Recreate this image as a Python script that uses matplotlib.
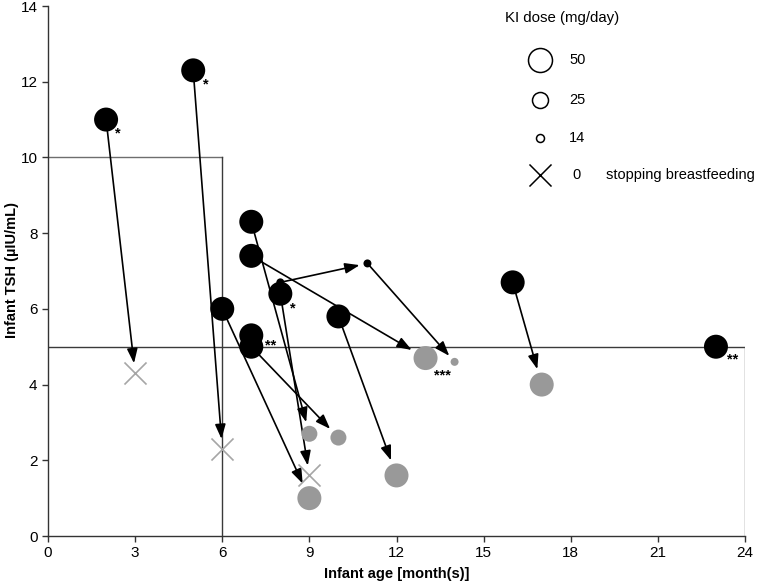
import matplotlib
matplotlib.use("Agg")
import matplotlib.pyplot as plt

plt.rcParams['font.family'] = ['Liberation Sans', 'DejaVu Sans']

# ---------------- data ----------------
# initial measurements (black)
black_age = [2, 5, 7, 7, 8, 6, 7, 7, 10, 16, 23, 8, 11]
black_tsh = [11.0, 12.3, 8.3, 7.4, 6.4, 6.0, 5.3, 5.0, 5.8, 6.7, 5.0, 6.7, 7.2]
black_dose = [50, 50, 50, 50, 50, 50, 50, 50, 50, 50, 50, 14, 14]

# follow-up measurements (grey)
gray_age = [9, 13, 9, 10, 12, 17, 14]
gray_tsh = [2.7, 4.7, 1.0, 2.6, 1.6, 4.0, 4.6]
gray_dose = [25, 50, 50, 25, 50, 50, 14]

# stopping breastfeeding (dose 0)
stop_age = [3, 6, 9]
stop_tsh = [4.3, 2.3, 1.6]

# arrows
arrow_from_age = [2, 5, 7, 7, 8, 6, 7, 10, 16, 8, 11]
arrow_from_tsh = [11.0, 12.3, 8.3, 7.4, 6.4, 6.0, 5.0, 5.8, 6.7, 6.7, 7.2]
arrow_to_age = [3, 6, 9, 13, 9, 9, 10, 12, 17, 11, 14]
arrow_to_tsh = [4.3, 2.3, 2.7, 4.7, 1.6, 1.0, 2.6, 1.6, 4.0, 7.2, 4.6]
arrow_to_dose = [0, 0, 25, 50, 0, 50, 25, 50, 50, 14, 14]

# significance marks
star_age = [2, 5, 8, 7, 13, 23]
star_tsh = [11.0, 12.3, 6.4, 5.3, 4.7, 5.0]
star_text = ['*', '*', '*', '**', '***', '**']

legend_doses = [50, 25, 14]
x_ticks = [0, 3, 6, 9, 12, 15, 18, 21, 24]
y_ticks = [0, 2, 4, 6, 8, 10, 12, 14]

# ---------------- style ----------------
DPI = 100
radius_px = {50: 12, 25: 8, 14: 4, 0: 8}


def s_of(d):
    diam_pt = 2 * radius_px[d] * 72 / DPI
    return diam_pt ** 2


fig = plt.figure(figsize=(7.57, 5.85), dpi=DPI)
ax = fig.add_axes([48 / 757, 49 / 585, (745 - 48) / 757, (536 - 6) / 585])
ax.set_xlim(0, 24)
ax.set_ylim(0, 14)

ref_col = '#6e6e6e'
ax.plot([0, 6], [10, 10], color=ref_col, lw=1, zorder=1)
ax.plot([6, 6], [0, 10], color='#3a3a3a', lw=1, zorder=1)
ax.plot([0, 24], [5, 5], color='#3a3a3a', lw=1, zorder=1)
ax.plot([24, 24], [0, 5], color=ref_col, lw=1, zorder=1)

# arrows
for xa, ya, xb, yb, d in zip(arrow_from_age, arrow_from_tsh, arrow_to_age,
                              arrow_to_tsh, arrow_to_dose):
    gap = radius_px[d] + (4 if d else 2)
    ax.annotate('', xy=(xb, yb), xytext=(xa, ya),
                arrowprops=dict(arrowstyle='-|>,head_length=0.55,head_width=0.2',
                                mutation_scale=16, color='black', lw=1.2,
                                shrinkA=0, shrinkB=gap * 72 / DPI),
                zorder=2)

ax.scatter(gray_age, gray_tsh, s=[s_of(d) for d in gray_dose],
           color='#999999', edgecolors='none', zorder=3)
ax.scatter(stop_age, stop_tsh, s=s_of(0) * 1.9, marker='x',
           color='#a6a6a6', linewidths=1.2, zorder=3)
ax.scatter(black_age, black_tsh, s=[s_of(d) for d in black_dose],
           color='black', edgecolors='none', zorder=4)

# significance stars
star_off_list = [(12, -14), (13, -14), (12, -15), (19, -10), (17, -17), (17, -13)]
for xs, ys, t, off in zip(star_age, star_tsh, star_text, star_off_list):
    ax.annotate(t, xy=(xs, ys), xytext=off, textcoords='offset pixels',
                ha='center', va='center', fontsize=10.5, fontweight='bold', zorder=5)

# legend (drawn manually)
leg_x = 16.95
leg_y = [12.57, 11.52, 10.51]
ax.text(15.75, 13.68, 'KI dose (mg/day)', fontsize=10.8, va='center', ha='left')
for d, yy in zip(legend_doses, leg_y):
    ax.scatter([leg_x], [yy], s=s_of(d), facecolors='white', edgecolors='black',
               linewidths=1.1, zorder=5)
    ax.text(17.95, yy, str(d), fontsize=10.5, va='center', ha='left')
ax.scatter([leg_x], [9.53], s=s_of(0) * 1.9, marker='x', color='black',
           linewidths=1.1, zorder=5)
ax.text(18.05, 9.53, '0', fontsize=10.5, va='center', ha='left')
ax.text(19.2, 9.53, 'stopping breastfeeding', fontsize=10.5, va='center', ha='left')

# axes styling
for sp in ['top', 'right']:
    ax.spines[sp].set_visible(False)
for sp in ['left', 'bottom']:
    ax.spines[sp].set_color('#333333')
    ax.spines[sp].set_linewidth(1)
ax.set_xticks(x_ticks)
ax.set_yticks(y_ticks)
ax.tick_params(direction='out', length=4, width=1, color='#333333', labelsize=11)
ax.set_xlabel('Infant age [month(s)]', fontsize=10.5, fontweight='bold', labelpad=5)
fig.text(12 / 757, 1 - 270 / 585, 'Infant TSH (µIU/mL)', rotation=90,
         ha='center', va='center', fontsize=10.5, fontweight='bold')

fig.savefig('out.png', dpi=DPI, facecolor='white')
